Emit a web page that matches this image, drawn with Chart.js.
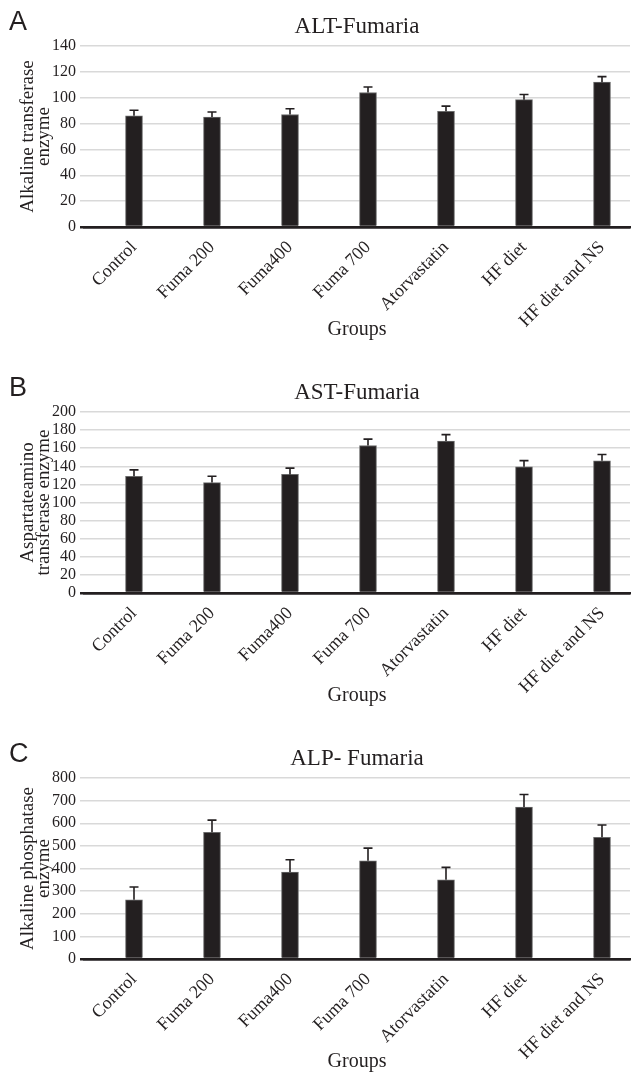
<!DOCTYPE html>
<html>
<head>
<meta charset="utf-8">
<script src="https://cdn.jsdelivr.net/npm/chart.js@4.4.1/dist/chart.umd.min.js"></script>
<style>
  html, body { margin: 0; padding: 0; background: #fff; overflow: hidden; }
  .panel { position: absolute; left: 0; width: 636px; height: 366px; }
</style>
</head>
<body>
<div class="panel" style="top:0"><canvas id="chartA" width="636" height="366"></canvas></div>
<div class="panel" style="top:366px"><canvas id="chartB" width="636" height="366"></canvas></div>
<div class="panel" style="top:732px"><canvas id="chartC" width="636" height="366"></canvas></div>
<script>
const groups = ['Control', 'Fuma 200', 'Fuma400', 'Fuma 700', 'Atorvastatin', 'HF diet', 'HF diet and NS'];

const altValues = [86, 85, 87, 104, 89.5, 98.5, 112];
const altErrors = [4.3, 4, 4.5, 4.3, 4, 4, 4.3];
const altTicks = [0, 20, 40, 60, 80, 100, 120, 140];

const astValues = [129, 122, 131, 163, 168, 139.5, 146];
const astErrors = [7, 7, 7, 7, 7, 6.8, 7];
const astTicks = [0, 20, 40, 60, 80, 100, 120, 140, 160, 180, 200];

const alpValues = [262, 560, 384, 434, 350, 672, 538];
const alpErrors = [56, 54, 55, 56, 55, 55, 54];
const alpTicks = [0, 100, 200, 300, 400, 500, 600, 700, 800];

const SERIF = '"Liberation Serif", "DejaVu Serif", serif';
const INK = '#231f20';

// error bars (upper half only, with cap) + titles drawn on the canvas
const decorPlugin = {
  id: 'decor',
  afterDatasetsDraw(chart, args, opts) {
    const { ctx, scales } = chart;
    const ds = chart.data.datasets[0];
    ctx.save();
    ctx.strokeStyle = INK;
    ctx.lineWidth = 1.6;
    ds.data.forEach((pt, i) => {
      const x = scales.x.getPixelForValue(pt.x);
      const y0 = scales.y.getPixelForValue(pt.y);
      const y1 = scales.y.getPixelForValue(pt.y + opts.errors[i]);
      ctx.beginPath();
      ctx.moveTo(x, y0);
      ctx.lineTo(x, y1);
      ctx.moveTo(x - 4.5, y1);
      ctx.lineTo(x + 4.5, y1);
      ctx.stroke();
    });
    ctx.restore();
  },
  afterDraw(chart, args, opts) {
    const { ctx, chartArea } = chart;
    const cx = (chartArea.left + chartArea.right) / 2;
    const cy = (chartArea.top + chartArea.bottom) / 2;
    ctx.save();
    ctx.fillStyle = INK;
    // panel letter
    ctx.font = '27px "Liberation Sans", Arial, sans-serif';
    ctx.textAlign = 'left';
    ctx.textBaseline = 'alphabetic';
    ctx.fillText(opts.letter, 9, 30);
    // title
    ctx.font = '23px ' + SERIF;
    ctx.textAlign = 'center';
    ctx.textBaseline = 'middle';
    ctx.fillText(opts.title, cx, 27);
    // x axis title
    ctx.font = '20px ' + SERIF;
    ctx.fillText('Groups', cx, 330);
    // y axis title, two lines
    ctx.font = '19px ' + SERIF;
    ctx.translate(0, cy);
    ctx.rotate(-Math.PI / 2);
    ctx.fillText(opts.yTitle[0], 0, 28);
    ctx.fillText(opts.yTitle[1], 0, 44);
    ctx.restore();
  }
};

function makeChart(id, values, errors, ticks, letter, title, yTitle) {
  const ctx = document.getElementById(id).getContext('2d');
  return new Chart(ctx, {
    type: 'bar',
    data: {
      datasets: [{
        data: values.map((v, i) => ({ x: i, y: v })),
        backgroundColor: INK,
        borderColor: '#6a6a6a',
        borderWidth: 1,
        barThickness: 17
      }]
    },
    plugins: [decorPlugin],
    options: {
      responsive: false,
      animation: false,
      layout: { padding: { top: 46, right: 6, left: 0, bottom: 0 } },
      plugins: {
        legend: { display: false },
        tooltip: { enabled: false },
        decor: { errors, letter, title, yTitle }
      },
      scales: {
        x: {
          type: 'linear',
          offset: false,
          min: -0.641,
          max: 6.359,
          afterBuildTicks: (scale) => { scale.ticks = groups.map((g, i) => ({ value: i })); },
          afterFit: (scale) => { scale.height = 139; },
          grid: { display: false },
          border: { display: true, color: INK, width: 2.5 },
          ticks: {
            autoSkip: false,
            minRotation: 45,
            maxRotation: 45,
            padding: 2,
            color: INK,
            font: { family: SERIF, size: 18 },
            callback: (v) => groups[v]
          }
        },
        y: {
          min: ticks[0],
          max: ticks[ticks.length - 1],
          afterBuildTicks: (scale) => { scale.ticks = ticks.map(v => ({ value: v })); },
          afterFit: (scale) => { scale.width = 84; },
          border: { display: false },
          grid: {
            color: (c) => c.tick && c.tick.value === 0 ? INK : '#d9d9d9',
            lineWidth: (c) => c.tick && c.tick.value === 0 ? 2.5 : 1.5,
            tickLength: 4
          },
          ticks: {
            autoSkip: false,
            padding: 4,
            color: INK,
            font: { family: SERIF, size: 16 }
          }
        }
      }
    }
  });
}

makeChart('chartA', altValues, altErrors, altTicks, 'A', 'ALT-Fumaria', ['Alkaline transferase', 'enzyme']);
makeChart('chartB', astValues, astErrors, astTicks, 'B', 'AST-Fumaria', ['Aspartateamino', 'transferase enzyme']);
makeChart('chartC', alpValues, alpErrors, alpTicks, 'C', 'ALP- Fumaria', ['Alkaline phosphatase', 'enzyme']);
</script>
</body>
</html>
